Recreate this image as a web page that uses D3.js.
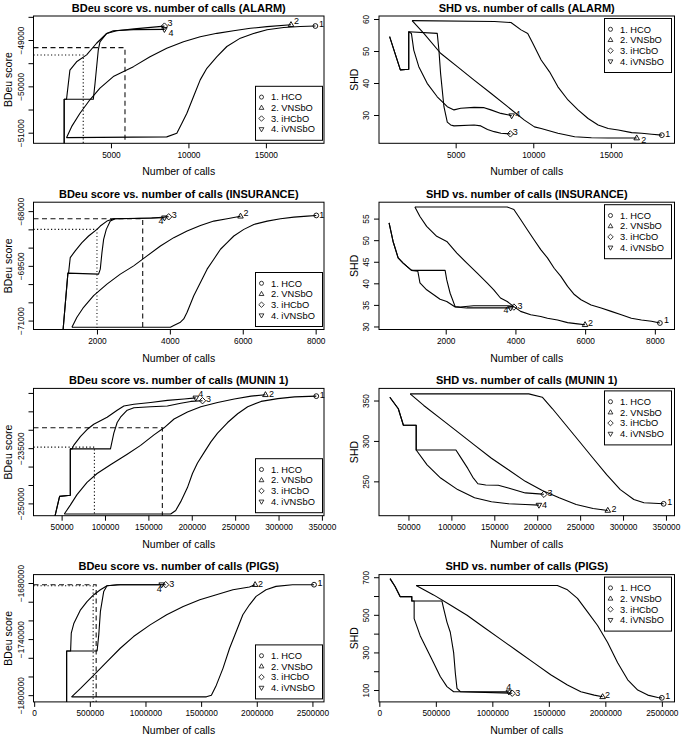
<!DOCTYPE html>
<html><head><meta charset="utf-8">
<script src="https://cdn.jsdelivr.net/npm/d3@7"></script>
<style>
body{margin:0;background:#fff}
svg{display:block}
</style>
</head><body>
<svg id="c" width="685" height="737"></svg>
<script>
// ---------------- DATA ----------------
const seriesLabels = ["1. HCO", "2. VNSbO", "3. iHCbO", "4. iVNSbO"];

// ALARM - BDeu
const alarmBdeuHCO = [[2130,-51107],[8600,-51090],[9250,-51013],[9570,-50800],[9900,-50580],[10330,-50220],[10760,-49860],[11190,-49610],[11840,-49360],[12480,-49140],[13350,-48960],[14200,-48860],[15070,-48780],[16150,-48730],[17220,-48710],[18195,-48698]];
const alarmBdeuVNS = [[2130,-51107],[2460,-50870],[3000,-50580],[3640,-50290],[4290,-50040],[5150,-49790],[6450,-49575],[7520,-49360],[8600,-49180],[9680,-49036],[10760,-48928],[11840,-48856],[12910,-48799],[14000,-48748],[15070,-48712],[16620,-48670]];
const alarmBdeuIHC = [[1980,-51400],[1980,-50280],[3860,-50280],[3970,-49940],[4180,-49220],[4290,-49040],[4720,-48860],[5370,-48800],[6500,-48760],[8450,-48700]];
const alarmBdeuIVN = [[1980,-51400],[1980,-50280],[2130,-50280],[2350,-49650],[2780,-49470],[3430,-49320],[4070,-49070],[4720,-48860],[5150,-48800],[6450,-48775],[8450,-48770]];
const alarmBdeuRef = {dashed:[5905,-49165], dotted:[3210,-49324]};

// ALARM - SHD
const alarmShdHCO = [[2192,59.5],[7500,59.2],[8564,58.9],[9212,56.6],[9644,55.5],[9968,52.4],[10508,47.2],[11048,43.5],[11588,38.8],[12236,34.7],[12884,31.6],[13532,28.9],[14180,26.9],[14828,25.8],[15476,25.3],[16340,24.5],[16988,24.3],[17636,24.0],[18284,23.7]];
const alarmShdVNS = [[2192,59.5],[2948,55.5],[4028,49.3],[5108,45.1],[6188,40.9],[7268,36.8],[8348,32.6],[9428,28.4],[10076,26.3],[10508,25.8],[11588,24.3],[12668,23.2],[13748,22.9],[14828,22.8],[16664,22.8]];
const alarmShdIHC = [[745,54.5],[1436,44.1],[1976,44.3],[1976,56.0],[3812,55.5],[3920,50.3],[4028,43.0],[4244,32.6],[4460,27.8],[4676,26.9],[4892,26.6],[6188,26.9],[6620,26.6],[7052,25.5],[7484,24.8],[7916,24.3],[8521,24.1]];
const alarmShdIVN = [[745,54.5],[1436,44.1],[1976,44.3],[1976,56.0],[2149,55.5],[2300,50.3],[2624,45.1],[3164,39.9],[3812,35.7],[4460,32.6],[4892,31.6],[5324,32.1],[6188,32.4],[6836,32.3],[7268,31.6],[7916,30.5],[8607,29.8]];

// INSURANCE - BDeu
const insBdeuHCO = [[1313,-71182],[4015,-71182],[4107,-71136],[4290,-71045],[4381,-70955],[4473,-70773],[4656,-70318],[4839,-69955],[5022,-69591],[5206,-69318],[5389,-69045],[5572,-68864],[5755,-68682],[6030,-68500],[6304,-68364],[6671,-68273],[7037,-68209],[7403,-68164],[7770,-68136],[8017,-68118]];
const insBdeuVNS = [[1313,-71182],[1450,-70909],[1633,-70636],[1908,-70318],[2274,-70000],[2641,-69727],[3007,-69500],[3374,-69227],[3741,-68955],[4107,-68727],[4473,-68545],[4839,-68391],[5206,-68273],[5572,-68209],[5938,-68140]];
const insBdeuIHC = [[1058,-71400],[1203,-69700],[2045,-69727],[2091,-69591],[2137,-69136],[2183,-68773],[2256,-68500],[2366,-68273],[2503,-68209],[3500,-68190],[3969,-68155]];
const insBdeuIVN = [[1058,-71400],[1203,-69700],[1221,-69700],[1267,-69273],[1404,-69091],[1588,-68864],[1771,-68682],[2000,-68500],[2091,-68409],[2274,-68273],[2458,-68209],[3007,-68200],[3851,-68182]];
const insBdeuRef = {dashed:[3255,-68209], dotted:[2000,-68500]};

// INSURANCE - SHD
const insShdHCO = [[1116,57.7],[3764,57.7],[3956,57.1],[4149,54.8],[4342,52.4],[4534,50.1],[4727,47.8],[4919,45.9],[5112,43.5],[5304,41.6],[5497,39.3],[5690,37.4],[5882,36.2],[6171,35.0],[6460,34.3],[6749,33.5],[7037,32.7],[7326,31.9],[7615,31.5],[7904,31.2],[8145,30.8]];
const insShdVNS = [[1116,57.7],[1261,55.5],[1453,53.2],[1742,50.9],[2030,49.7],[2320,47.0],[2608,44.7],[2897,42.4],[3186,40.1],[3379,38.5],[3571,36.6],[3764,35.8],[3956,34.6],[4149,33.5],[4438,32.7],[4727,32.3],[4919,31.9],[5208,31.5],[5497,30.9],[5786,30.6],[5998,30.4]];
const insShdIHC = [[375,54.0],[490,49.7],[635,45.9],[779,44.7],[1020,43.0],[1983,43.0],[2030,40.8],[2127,37.7],[2271,34.6],[2416,34.5],[2801,34.8],[3764,34.8],[3956,34.5]];
const insShdIVN = [[375,54.0],[490,49.7],[635,45.9],[779,44.7],[1020,43.0],[1200,42.8],[1261,40.1],[1453,38.5],[1646,37.4],[1838,36.3],[2030,35.8],[2271,34.5],[2608,34.3],[3860,34.3]];

// MUNIN 1 - BDeu
const munBdeuHCO = [[53084,-252865],[175737,-252865],[181522,-251910],[187308,-249523],[195022,-245703],[200807,-241883],[206593,-239018],[214307,-236153],[222021,-233288],[229735,-230900],[241306,-228035],[252877,-225648],[264448,-223738],[279876,-222305],[299161,-221541],[318446,-221064],[343516,-220872]];
const munBdeuVNS = [[53084,-252865],[60027,-250478],[67741,-247613],[79312,-244270],[90883,-241883],[106311,-239495],[125596,-236630],[141024,-234243],[156452,-231378],[168023,-229468],[179594,-227080],[195022,-225170],[210450,-223738],[229735,-222592],[249020,-221637],[268305,-220872],[284890,-220500]];
const munBdeuIHC = [[41513,-254298],[47685,-248090],[60027,-247804],[60027,-235198],[106311,-235198],[110168,-230900],[114025,-228035],[117882,-226603],[125596,-224693],[133310,-224024],[152595,-223738],[171880,-223547],[187308,-222783],[198879,-222305],[212378,-222114]];
const munBdeuIVN = [[41513,-254298],[47685,-248090],[60027,-247804],[60027,-235198],[61956,-235198],[63884,-234243],[71598,-231855],[79312,-229945],[87026,-228512],[94740,-227558],[102454,-226603],[114025,-224693],[121739,-223547],[133310,-223069],[152595,-222592],[171880,-222019],[191165,-221637],[204664,-221350]];
const munBdeuRef = {dashed:[166094,-229468], dotted:[87797,-234720]};

// MUNIN 1 - SHD
const munShdHCO = [[52000,358.2],[190200,358.2],[205900,354.1],[217800,339.8],[233600,319.4],[249400,299],[265100,278.6],[280900,258.2],[296800,239.8],[312600,227.6],[324400,223.5],[347300,222.2]];
const munShdVNS = [[52000,358.2],[67800,343.9],[87500,327.6],[107300,311.2],[127000,294.9],[146700,278.6],[166400,264.3],[186100,250],[205900,238.6],[225600,229.6],[245400,221.4],[265100,216.5],[282200,214]];
const munShdIHC = [[28300,354.1],[38180,339.8],[44100,319.4],[59000,319.4],[59000,288.8],[105300,288.8],[111200,279],[119100,266],[125000,255],[130900,247],[140000,245.5],[154600,245.1],[166400,241.8],[186100,235.7],[201900,234.5],[207800,234]];
const munShdIVN = [[28300,354.1],[38180,339.8],[44100,319.4],[59000,319.4],[59000,288.8],[71700,270.4],[87500,254.1],[107300,239.8],[127000,229.6],[146700,224.7],[166400,222.2],[186100,221.4],[202000,220.6]];

// PIGS - BDeu
const pigBdeuHCO = [[336300,-1801800],[1547500,-1801800],[1592200,-1800000],[1636800,-1789300],[1696300,-1771300],[1755800,-1749800],[1815400,-1731900],[1874900,-1714000],[1934400,-1703300],[1993900,-1694300],[2083200,-1687200],[2172500,-1683600],[2321300,-1681800],[2514700,-1681800]];
const pigBdeuVNS = [[336300,-1801800],[416600,-1792800],[535700,-1778500],[654700,-1764200],[773800,-1749800],[892800,-1737300],[1041600,-1724800],[1190400,-1714000],[1339200,-1705100],[1488000,-1697900],[1636800,-1692500],[1785600,-1687200],[1934400,-1684300],[1985000,-1681800]];
const pigBdeuIHC = [[291600,-1815000],[291600,-1752700],[565400,-1752700],[580300,-1735500],[595200,-1710400],[625000,-1689000],[654700,-1682900],[773800,-1681800],[1181500,-1681800]];
const pigBdeuIVN = [[291600,-1815000],[291600,-1752700],[327400,-1752700],[333300,-1733700],[357100,-1723000],[416600,-1708700],[476200,-1699700],[535700,-1692500],[595200,-1687200],[654700,-1682900],[744000,-1681800],[1145800,-1681800]];
const pigBdeuRef = {dashed:[557000,-1681800], dotted:[530000,-1682900]};

// PIGS - SHD
const pigShdHCO = [[325800,656],[1575800,656],[1664700,633.1],[1753500,587.9],[1842400,515.6],[1931200,443.3],[2020100,353],[2108900,244.6],[2197800,154.3],[2286700,100],[2375500,72.9],[2464400,60.2],[2499900,58.4]];
const pigShdVNS = [[325800,656],[479800,606],[627900,551.8],[776000,497.5],[924100,434.3],[1072200,371],[1220300,307.8],[1368400,244.6],[1516500,181.3],[1664700,127.1],[1783200,91],[1901600,72.9],[1975700,63.9]];
const pigShdIHC = [[94800,692.7],[139200,651.1],[183600,597],[287300,597],[287300,573.4],[553900,573.4],[568700,533.7],[598300,461.4],[627900,407.2],[657600,298.8],[672400,190.4],[687200,109],[716800,91],[1175900,83]];
const pigShdIVN = [[94800,692.7],[139200,651.1],[183600,597],[287300,597],[287300,573.4],[308000,573.4],[308000,479.5],[361400,389.1],[420600,316.8],[479800,244.6],[539100,172.3],[598300,118.1],[657600,91],[1146300,90]];

// axis limits and ticks
const alarmBdeuXlim = [0, 18750], alarmBdeuYlim = [-51229, -48482];
const alarmShdXlim = [60, 19100], alarmShdYlim = [21.16, 60.94];
const insBdeuXlim = [259, 8229], insBdeuYlim = [-71245, -67755];
const insShdXlim = [86, 8564], insShdYlim = [29.3, 58.8];
const munBdeuXlim = [17600, 352400], munBdeuYlim = [-253340, -218770];
const munShdXlim = [15670, 359950], munShdYlim = [207.5, 365];
const pigBdeuXlim = [-6000, 2604000], pigBdeuYlim = [-1807200, -1671000];
const pigShdXlim = [-3000, 2612000], pigShdYlim = [36.8, 714];

const alarmXticks = [5000, 10000, 15000];
const insXticks = [2000, 4000, 6000, 8000];
const munXticks = [50000, 100000, 150000, 200000, 250000, 300000, 350000];
const pigXticks = [0, 500000, 1000000, 1500000, 2000000, 2500000];

const alarmBdeuYticks = [-48500, -49000, -49500, -50000, -50500, -51000];
const alarmBdeuYlabels = [-49000, -50000, -51000];
const alarmShdYticks = [30, 40, 50, 60];
const insBdeuYticks = [-68000, -68500, -69000, -69500, -70000, -70500, -71000];
const insBdeuYlabels = [-68000, -69500, -71000];
const insShdYticks = [30, 35, 40, 45, 50, 55];
const munBdeuYticks = [-220000, -225000, -230000, -235000, -240000, -245000, -250000];
const munBdeuYlabels = [-235000, -250000];
const munShdYticks = [250, 300, 350];
const pigBdeuYticks = [-1680000, -1700000, -1720000, -1740000, -1760000, -1780000, -1800000];
const pigBdeuYlabels = [-1680000, -1740000, -1800000];
const pigShdYticks = [100, 200, 300, 400, 500, 600, 700];
const pigShdYlabels = [100, 300, 500, 700];

// ---------------- LAYOUT / STYLE ----------------
const FONT = '"Liberation Sans", Arial, Helvetica, sans-serif';
const colX = [[33.5, 324], [379, 674.5]];
const rowTop = [16, 202.2, 388.4, 574.6];
const boxH = 127.3;

const panels = [
  {title:"BDeu score vs. number of calls (ALARM)", ylab:"BDeu score", col:0, row:0,
   series:[alarmBdeuHCO, alarmBdeuVNS, alarmBdeuIHC, alarmBdeuIVN], xlim:alarmBdeuXlim, ylim:alarmBdeuYlim,
   xticks:alarmXticks, yticks:alarmBdeuYticks, ylabels:alarmBdeuYlabels, legend:"br", ref:alarmBdeuRef,
   off:[[6,-2],[5.5,-4],[5.5,-3.3],[6.5,3.5]]},
  {title:"SHD vs. number of calls (ALARM)", ylab:"SHD", col:1, row:0,
   series:[alarmShdHCO, alarmShdVNS, alarmShdIHC, alarmShdIVN], xlim:alarmShdXlim, ylim:alarmShdYlim,
   xticks:alarmXticks, yticks:alarmShdYticks, ylabels:alarmShdYticks, legend:"tr",
   off:[[6,-1.5],[7,1.5],[5,-2.3],[6,-1.7]]},
  {title:"BDeu score vs. number of calls (INSURANCE)", ylab:"BDeu score", col:0, row:1,
   series:[insBdeuHCO, insBdeuVNS, insBdeuIHC, insBdeuIVN], xlim:insBdeuXlim, ylim:insBdeuYlim,
   xticks:insXticks, yticks:insBdeuYticks, ylabels:insBdeuYlabels, legend:"br", ref:insBdeuRef,
   off:[[5.5,-1],[5.5,-3.3],[5.5,-2.3],[-3.5,3.3]]},
  {title:"SHD vs. number of calls (INSURANCE)", ylab:"SHD", col:1, row:1,
   series:[insShdHCO, insShdVNS, insShdIHC, insShdIVN], xlim:insShdXlim, ylim:insShdYlim,
   xticks:insXticks, yticks:insShdYticks, ylabels:insShdYticks, legend:"tr",
   off:[[6.5,-2.7],[5.5,-1.7],[6,-1.3],[-4.5,1.7]]},
  {title:"BDeu score vs. number of calls (MUNIN 1)", ylab:"BDeu score", col:0, row:2,
   series:[munBdeuHCO, munBdeuVNS, munBdeuIHC, munBdeuIVN], xlim:munBdeuXlim, ylim:munBdeuYlim,
   xticks:munXticks, yticks:munBdeuYticks, ylabels:munBdeuYlabels, legend:"br", ref:munBdeuRef,
   off:[[6,-1.7],[6,-1],[6,-1.7],[5,-4.3]]},
  {title:"SHD vs. number of calls (MUNIN 1)", ylab:"SHD", col:1, row:2,
   series:[munShdHCO, munShdVNS, munShdIHC, munShdIVN], xlim:munShdXlim, ylim:munShdYlim,
   xticks:munXticks, yticks:munShdYticks, ylabels:munShdYticks, legend:"tr",
   off:[[6,-2],[6.3,-2],[6,-1],[5.5,0]]},
  {title:"BDeu score vs. number of calls (PIGS)", ylab:"BDeu score", col:0, row:3,
   series:[pigBdeuHCO, pigBdeuVNS, pigBdeuIHC, pigBdeuIVN], xlim:pigBdeuXlim, ylim:pigBdeuYlim,
   xticks:pigXticks, yticks:pigBdeuYticks, ylabels:pigBdeuYlabels, legend:"br", ref:pigBdeuRef,
   off:[[6,-1.7],[5.5,-1],[6,-0.7],[-2.5,4]]},
  {title:"SHD vs. number of calls (PIGS)", ylab:"SHD", col:1, row:3,
   series:[pigShdHCO, pigShdVNS, pigShdIHC, pigShdIVN], xlim:pigShdXlim, ylim:pigShdYlim,
   xticks:pigXticks, yticks:pigShdYticks, ylabels:pigShdYlabels, legend:"tr",
   off:[[6,-1.7],[5,-1.7],[5.5,0],[0,-5.5]]}
];

// symbol shapes (R pch 1, 2, 5, 6)
function symPath(k) {
  if (k === 0) return "M2.4,0A2.4,2.4 0 1,1 -2.4,0A2.4,2.4 0 1,1 2.4,0Z";
  if (k === 1) return "M0,-3.1L2.8,1.8L-2.8,1.8Z";
  if (k === 2) return "M0,-3.2L3.2,0L0,3.2L-3.2,0Z";
  return "M0,3.1L2.8,-1.8L-2.8,-1.8Z";
}

const fmt = d3.format("d");
const svg = d3.select("#c");
svg.append("rect").attr("width",685).attr("height",737).attr("fill","#fff");

panels.forEach((p, i) => {
  const [x0, x1] = colX[p.col];
  const y0 = rowTop[p.row], y1 = y0 + boxH;
  const x = d3.scaleLinear().domain(p.xlim).range([x0, x1]);
  const y = d3.scaleLinear().domain(p.ylim).range([y1, y0]);
  const g = svg.append("g");

  const clipId = "clip" + i;
  svg.append("clipPath").attr("id", clipId).append("rect")
    .attr("x", x0).attr("y", y0).attr("width", x1 - x0).attr("height", y1 - y0);
  const cg = g.append("g").attr("clip-path", `url(#${clipId})`);

  // reference lines
  if (p.ref) {
    [["dashed", "5,3.5"], ["dotted", "1.2,2.3"]].forEach(([k, dash]) => {
      const [rx, ry] = p.ref[k];
      cg.append("path")
        .attr("d", `M${x0},${y(ry)}H${x(rx)}V${y1}`)
        .attr("fill", "none").attr("stroke", "#111").attr("stroke-width", 1.1)
        .attr("stroke-dasharray", dash);
    });
  }

  // curves
  const line = d3.line().x(d => x(d[0])).y(d => y(d[1]));
  p.series.forEach(s => {
    cg.append("path").attr("d", line(s)).attr("fill", "none")
      .attr("stroke", "#000").attr("stroke-width", 1.1).attr("stroke-linejoin", "round");
  });

  // end markers and number labels
  p.series.forEach((s, k) => {
    const last = s[s.length - 1];
    const mx = x(last[0]), my = y(last[1]);
    g.append("path").attr("d", symPath(k)).attr("transform", `translate(${mx},${my})`)
      .attr("fill", "none").attr("stroke", "#000").attr("stroke-width", 0.9);
    g.append("text").attr("x", mx + p.off[k][0]).attr("y", my + p.off[k][1])
      .attr("dy", "0.35em").attr("text-anchor", "middle")
      .attr("font-family", FONT).attr("font-size", 9).text(String(k + 1));
  });

  // legend
  const lw = 67, lh = 54;
  const lx = p.legend === "br" ? x1 - 1.5 - lw : x1 - 3 - lw;
  const ly = p.legend === "br" ? y1 - 3 - lh : y0 + 2.5;
  const lg = g.append("g").attr("transform", `translate(${lx},${ly})`);
  lg.append("rect").attr("width", lw).attr("height", lh).attr("fill", "#fff")
    .attr("stroke", "#000").attr("stroke-width", 1);
  seriesLabels.forEach((t, k) => {
    const yy = 10.8 + k * 10.7;
    lg.append("path").attr("d", symPath(k)).attr("transform", `translate(6,${yy}) scale(0.85)`)
      .attr("fill", "none").attr("stroke", "#000").attr("stroke-width", 0.9);
    lg.append("text").attr("x", 15.5).attr("y", yy).attr("dy", "0.35em")
      .attr("font-family", FONT).attr("font-size", 9.3).text(t);
  });

  // box
  g.append("rect").attr("x", x0).attr("y", y0).attr("width", x1 - x0).attr("height", y1 - y0)
    .attr("fill", "none").attr("stroke", "#000").attr("stroke-width", 1);

  // x axis
  const gx = g.append("g").attr("transform", `translate(0,${y1})`)
    .call(d3.axisBottom(x).tickValues(p.xticks).tickSize(5).tickPadding(3.5).tickFormat(fmt));
  gx.select(".domain").remove();
  gx.attr("font-family", FONT).attr("font-size", 8.3);
  gx.selectAll("line").attr("stroke", "#000");
  gx.selectAll("text").attr("fill", "#000");

  // y axis (labels parallel to axis, as in R)
  const gy = g.append("g").attr("transform", `translate(${x0},0)`)
    .call(d3.axisLeft(y).tickValues(p.yticks).tickSize(5)
      .tickFormat(d => p.ylabels.includes(d) ? fmt(d) : ""));
  gy.select(".domain").remove();
  gy.attr("font-family", FONT).attr("font-size", 8.3);
  gy.selectAll("line").attr("stroke", "#000");
  gy.selectAll("text").attr("fill", "#000").attr("x", 0).attr("dy", "0.35em")
    .attr("text-anchor", "middle").attr("transform", "translate(-12.5,0) rotate(-90)");

  // titles
  g.append("text").attr("x", (x0 + x1) / 2).attr("y", y0 - 4.5).attr("text-anchor", "middle")
    .attr("font-family", FONT).attr("font-size", 11).attr("font-weight", "bold").text(p.title);
  g.append("text").attr("x", (x0 + x1) / 2).attr("y", y1 + 32).attr("text-anchor", "middle")
    .attr("font-family", FONT).attr("font-size", 10.5).text("Number of calls");
  g.append("text").attr("transform", `translate(${x0 - 25},${(y0 + y1) / 2}) rotate(-90)`)
    .attr("dy", "0.35em").attr("text-anchor", "middle")
    .attr("font-family", FONT).attr("font-size", 10.5).text(p.ylab);
});
</script>
</body></html>
